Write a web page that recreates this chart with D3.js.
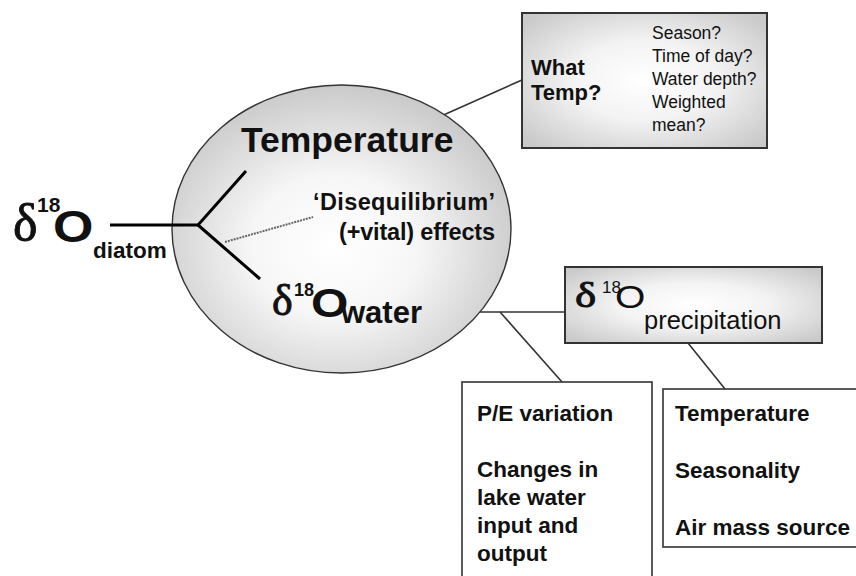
<!DOCTYPE html>
<html>
<head>
<meta charset="utf-8">
<script src="https://cdn.jsdelivr.net/npm/d3@7"></script>
<style>
  body { margin: 0; background: #fff; }
  text { font-family: "Liberation Sans", Arial, sans-serif; fill: #111; }
  .greek { font-family: "Liberation Serif", "DejaVu Serif", serif; font-weight: normal; stroke: #111; stroke-width: 0.9; }
</style>
</head>
<body>
<div id="diagram"></div>
<script>
// labels of the diagram
var isotope = ["δ", "18", "O"];
var subscripts = ["diatom", "water", "precipitation"];
var branchLabels = ["Temperature", "‘Disequilibrium’", "(+vital) effects"];
var whatTemp = ["What", "Temp?"];
var tempQuestions = ["Season?", "Time of day?", "Water depth?", "Weighted", "mean?"];
var waterBalance = ["P/E variation", "", "Changes in", "lake water", "input and", "output"];
var precipControls = ["Temperature", "", "Seasonality", "", "Air mass source"];

var svgWidth = 856;
var svgHeight = 576;

var svg = d3.select("#diagram")
    .append("svg")
    .attr("width", svgWidth)
    .attr("height", svgHeight);

var defs = svg.append("defs");

// grey shading used for the ellipse and the two shaded boxes
function shade(id, cx, cy, r, mid, edge) {
    var grad = defs.append("radialGradient")
        .attr("id", id)
        .attr("cx", cx).attr("cy", cy).attr("r", r);
    grad.append("stop").attr("offset", "0%").attr("stop-color", "#ffffff");
    grad.append("stop").attr("offset", "45%").attr("stop-color", mid);
    grad.append("stop").attr("offset", "100%").attr("stop-color", edge);
}
shade("ellShade", "48%", "56%", "55%", "#f6f6f6", "#cbcbcb");
shade("boxShade", "50%", "50%", "65%", "#f3f3f3", "#cacaca");

// connectors (drawn first so shapes cover their ends)
var connectors = [
    [[430, 121], [522, 80]],
    [[470, 312], [565, 312]],
    [[500, 312], [562, 382]],
    [[688, 343], [725, 389]]
];
svg.selectAll("line.connector")
    .data(connectors)
    .enter()
    .append("line")
    .attr("class", "connector")
    .attr("x1", d => d[0][0]).attr("y1", d => d[0][1])
    .attr("x2", d => d[1][0]).attr("y2", d => d[1][1])
    .attr("stroke", "#333")
    .attr("stroke-width", 1.6);

// central ellipse
svg.append("ellipse")
    .attr("cx", 341.5).attr("cy", 229)
    .attr("rx", 169.5).attr("ry", 144)
    .attr("fill", "url(#ellShade)")
    .attr("stroke", "#333")
    .attr("stroke-width", 1.4);

// fork lines
var fork = d3.line();
svg.append("path")
    .attr("d", fork([[110, 225], [198, 225]]))
    .attr("stroke", "#000").attr("stroke-width", 3).attr("fill", "none");
svg.append("path")
    .attr("d", fork([[246, 171], [198, 225], [260, 279]]))
    .attr("stroke", "#000").attr("stroke-width", 3).attr("fill", "none")
    .attr("stroke-linejoin", "miter");
svg.append("path")
    .attr("d", fork([[225, 242], [313, 217]]))
    .attr("stroke", "#666").attr("stroke-width", 2)
    .attr("stroke-dasharray", "2,1").attr("fill", "none");

// isotope symbol: delta, superscript 18, wide O and subscript
function isotopeLabel(p) {
    var g = svg.append("g");
    var weight = p.bold ? "bold" : "normal";
    g.append("text").attr("class", "greek")
        .attr("transform", `translate(${p.dx}, ${p.dy}) scale(${p.dStretch}, 1)`)
        .attr("font-size", p.dSize)
        .text(isotope[0]);
    g.append("text")
        .attr("x", p.sx).attr("y", p.sy)
        .attr("font-size", p.sSize)
        .attr("font-weight", weight)
        .text(isotope[1]);
    g.append("text")
        .attr("transform", `translate(${p.ox}, ${p.oy}) scale(${p.oStretch}, 1)`)
        .attr("font-size", p.oSize)
        .attr("font-weight", weight)
        .text(isotope[2]);
    g.append("text")
        .attr("x", p.bx).attr("y", p.by)
        .attr("font-size", p.bSize)
        .attr("font-weight", p.subBold ? "bold" : "normal")
        .text(p.sub);
}

isotopeLabel({ dx: 13, dy: 240, dSize: 52, dStretch: 1, sx: 37, sy: 212, sSize: 21,
    ox: 53, oy: 242, oSize: 44, oStretch: 1.18, bx: 93, by: 258, bSize: 22.5,
    bold: true, subBold: true, sub: subscripts[0] });

isotopeLabel({ dx: 272, dy: 315, dSize: 44, dStretch: 1, sx: 294, sy: 296, sSize: 18,
    ox: 311, oy: 317, oSize: 41, oStretch: 1.17, bx: 341, by: 323, bSize: 31,
    bold: true, subBold: true, sub: subscripts[1] });

// branch labels inside the ellipse
svg.append("text")
    .attr("x", 241).attr("y", 152)
    .attr("font-size", 35.5).attr("font-weight", "bold")
    .text(branchLabels[0]);

var diseqWidths = [182, 156];
svg.selectAll("text.diseq")
    .data(branchLabels.slice(1))
    .enter()
    .append("text")
    .attr("class", "diseq")
    .attr("x", (d, i) => 495 - diseqWidths[i])
    .attr("y", (d, i) => 210 + i * 30)
    .attr("textLength", (d, i) => diseqWidths[i])
    .attr("font-size", 23.5).attr("font-weight", "bold")
    .text(d => d);

// box: what temperature?
svg.append("rect")
    .attr("x", 522).attr("y", 13).attr("width", 245).attr("height", 135)
    .attr("fill", "url(#boxShade)")
    .attr("stroke", "#333").attr("stroke-width", 2);

svg.selectAll("text.what")
    .data(whatTemp)
    .enter()
    .append("text")
    .attr("class", "what")
    .attr("x", 531)
    .attr("y", (d, i) => 75 + i * 25)
    .attr("font-size", 22).attr("font-weight", "bold")
    .text(d => d);

svg.selectAll("text.question")
    .data(tempQuestions)
    .enter()
    .append("text")
    .attr("class", "question")
    .attr("x", 652)
    .attr("y", (d, i) => 39 + i * 23)
    .attr("font-size", 17.5)
    .text(d => d);

// box: precipitation isotopes
svg.append("rect")
    .attr("x", 565).attr("y", 267).attr("width", 257).attr("height", 76)
    .attr("fill", "url(#boxShade)")
    .attr("stroke", "#333").attr("stroke-width", 2);

isotopeLabel({ dx: 575, dy: 307, dSize: 36, dStretch: 1.25, sx: 602, sy: 293, sSize: 17,
    ox: 615, oy: 308, oSize: 32, oStretch: 1.22, bx: 644, by: 329, bSize: 25.5,
    bold: false, subBold: false, sub: subscripts[2] });

// box: lake water balance
svg.append("rect")
    .attr("x", 462).attr("y", 382).attr("width", 190).attr("height", 220)
    .attr("fill", "#fff")
    .attr("stroke", "#333").attr("stroke-width", 1.6);

svg.selectAll("text.balance")
    .data(waterBalance)
    .enter()
    .append("text")
    .attr("class", "balance")
    .attr("x", 477)
    .attr("y", (d, i) => 421 + i * 28)
    .attr("font-size", 22.5).attr("font-weight", "bold")
    .text(d => d);

// box: controls on precipitation
svg.append("rect")
    .attr("x", 663).attr("y", 389).attr("width", 220).attr("height", 158)
    .attr("fill", "#fff")
    .attr("stroke", "#333").attr("stroke-width", 1.6);

svg.selectAll("text.controls")
    .data(precipControls)
    .enter()
    .append("text")
    .attr("class", "controls")
    .attr("x", 675)
    .attr("y", (d, i) => 421 + i * 28.5)
    .attr("font-size", 22.5).attr("font-weight", "bold")
    .text(d => d);
</script>
</body>
</html>
